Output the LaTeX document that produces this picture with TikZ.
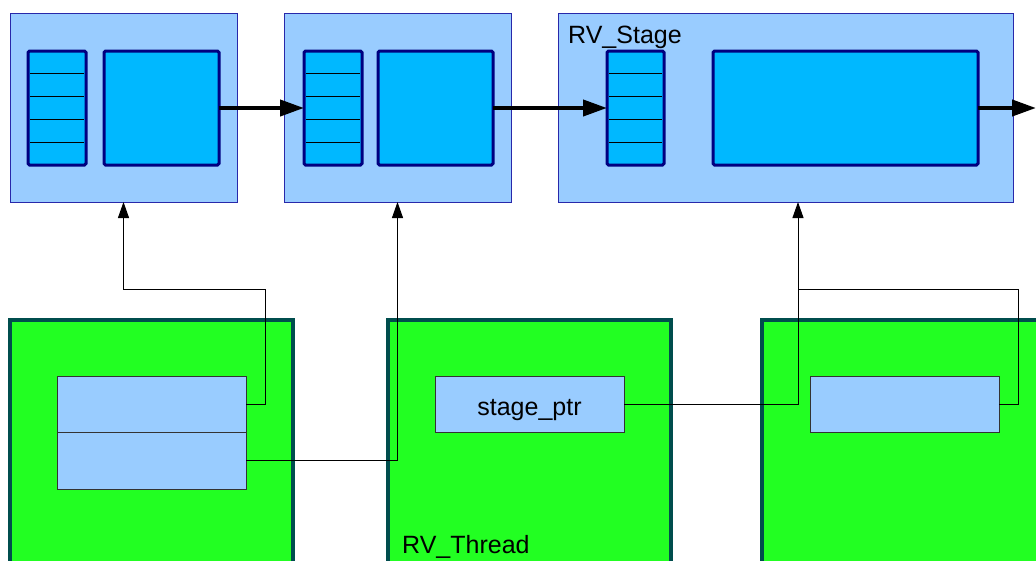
\documentclass[tikz,border=0pt]{standalone}
\usepackage{fontspec}
\setmainfont{Liberation Sans}
\usetikzlibrary{arrows.meta,positioning,calc}
\definecolor{stagefill}{RGB}{153,204,255}
\definecolor{stageline}{RGB}{40,40,170}
\definecolor{qfill}{RGB}{0,184,255}
\definecolor{qline}{RGB}{0,0,128}
\definecolor{thrfill}{RGB}{34,255,34}
\definecolor{thrline}{RGB}{0,77,77}

\begin{document}
\begin{tikzpicture}[x=1pt, y=-1pt, every node/.style={font=\fontsize{25}{30}\selectfont},
  stagebox/.style={draw=stageline, fill=stagefill, line width=1pt, inner sep=0pt, outer sep=0pt, minimum height=189pt},
  qbox/.style={draw=qline, fill=qfill, line width=3pt, rounded corners=1.5pt, inner sep=0pt, outer sep=0pt, minimum height=114pt},
  thrbox/.style={draw=thrline, fill=thrfill, line width=3.5pt, inner sep=0pt, outer sep=0pt, minimum height=300pt},
  fieldbox/.style={draw=black!80, fill=stagefill, line width=1pt, inner sep=0pt, outer sep=0pt, minimum width=189pt, minimum height=56.5pt, text height=23pt, text depth=0pt},
  flow/.style={line width=4pt, -{Triangle[length=24pt, width=16pt]}},
  ptr/.style={line width=1pt, -{Triangle[length=16pt, width=11pt]}}]
\clip (0,0) rectangle (1036,560);
\node[stagebox, anchor=north west, minimum width=227pt] (s1) at (10,13) {};
\node[stagebox, minimum width=227pt, right=47pt of s1] (s2) {};
\node[stagebox, minimum width=455pt, right=47pt of s2] (s3) {};
\node[qbox, anchor=north west, minimum width=58pt] (q1) at (28,51) {};
\node[qbox, minimum width=115pt, right=18pt of q1] (p1) {};
\node[qbox, anchor=north west, minimum width=58pt] (q2) at (304,51) {};
\node[qbox, minimum width=115pt, right=16pt of q2] (p2) {};
\node[qbox, anchor=north west, minimum width=57pt] (q3) at (607,51) {};
\node[qbox, minimum width=265pt, right=49pt of q3] (p3) {};
\foreach \q in {q1,q2,q3} \foreach \k in {1,...,4}
  \draw[line width=0.9pt] ($(\q.north west)+(2,\k*22.8)$) -- ($(\q.north east)+(-2,\k*22.8)$);
\node[anchor=base west, inner sep=0pt] (stlabel) at (568,43) {RV\_Stage};
\coordinate (out) at (1036,108);
\draw[flow] (p1.east) -- (q2.west); \draw[flow] (p2.east) -- (q3.west); \draw[flow] (p3.east) -- (out);

\node[thrbox, anchor=north west, minimum width=283pt] (t1) at (10,320) {};
\node[thrbox, minimum width=283pt, right=95pt of t1] (t2) {};
\node[thrbox, minimum width=300pt, right=91pt of t2] (t3) {};
\node[fieldbox, anchor=north west] (f1a) at (57,376) {};
\node[fieldbox, below=0pt of f1a] (f1b) {};
\node[fieldbox, anchor=north west] (f2) at (435,376) {stage\_ptr};
\node[fieldbox, anchor=north west] (f3) at (810,376) {};
\node[anchor=base west, inner sep=0pt] (thlabel) at (402,553) {RV\_Thread};

\coordinate (j1) at (265.5,289.5); \coordinate (j3) at (798,289.5); \coordinate (j4) at (1018,289.5);
\draw[ptr] (f1a.east) -| (j1) -| (s1.south);
\draw[ptr] (f1b.east) -| (s2.south);
\draw[ptr] (f2.east) -| (j3 |- s3.south);
\draw[line width=1pt] (f3.east) -| (j4) -- (j3);
\end{tikzpicture}
\end{document}
